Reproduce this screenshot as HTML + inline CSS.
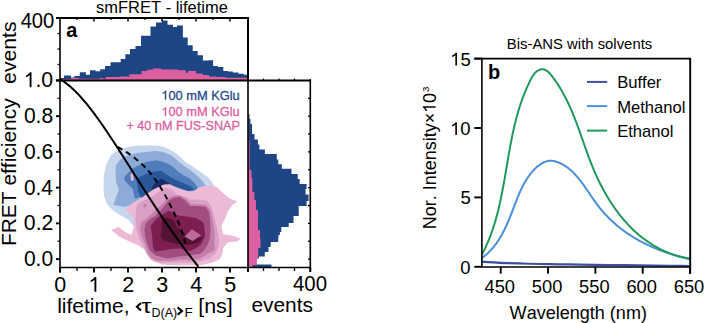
<!DOCTYPE html>
<html><head><meta charset="utf-8"><style>
html,body{margin:0;padding:0;background:#fff;}
body{width:704px;height:323px;overflow:hidden;font-family:"Liberation Sans",sans-serif;}
svg{display:block;}
svg text{font-family:"Liberation Sans",sans-serif;font-kerning:none;}
</style></head><body>
<svg width="704" height="323" viewBox="0 0 704 323" font-family="Liberation Sans, sans-serif" style="font-kerning:none">
<rect width="704" height="323" fill="#fff"/>
<path d="M60.00,80.00 L60.00,78.10 L64.00,78.10 L64.00,75.40 L71.00,75.40 L71.00,77.50 L74.30,77.50 L74.30,76.10 L79.80,76.10 L79.80,72.30 L85.90,72.30 L85.90,74.70 L90.00,74.70 L90.00,70.20 L95.50,70.20 L95.50,71.30 L100.20,71.30 L100.20,69.30 L105.00,69.30 L105.00,65.90 L110.50,65.90 L110.50,62.20 L120.70,62.20 L120.70,59.00 L125.30,59.00 L125.30,54.20 L130.00,54.20 L130.00,49.00 L135.50,49.00 L135.50,46.10 L141.00,46.10 L141.00,35.70 L150.50,35.70 L150.50,26.60 L156.00,26.60 L156.00,22.50 L162.00,22.50 L162.00,20.40 L167.50,20.40 L167.50,24.80 L173.00,24.80 L173.00,27.00 L177.00,27.00 L177.00,25.60 L182.90,25.60 L182.90,37.50 L187.70,37.50 L187.70,45.20 L192.70,45.20 L192.70,50.90 L197.70,50.90 L197.70,55.30 L202.90,55.30 L202.90,60.40 L208.30,60.40 L208.30,60.20 L213.10,60.20 L213.10,65.90 L217.90,65.90 L217.90,67.00 L223.30,67.00 L223.30,71.00 L228.00,71.00 L228.00,71.60 L232.80,71.60 L232.80,72.40 L238.30,72.40 L238.30,73.80 L243.70,73.80 L243.70,74.70 L248.00,74.70 L248.00,80.00 Z" fill="#1f4684"/>
<path d="M60.00,80.00 L60.00,79.10 L71.00,79.10 L71.00,77.90 L78.40,77.90 L78.40,78.80 L100.00,78.80 L100.00,77.90 L103.00,77.90 L103.00,78.80 L105.70,78.80 L105.70,77.00 L119.50,77.00 L119.50,76.40 L129.40,76.40 L129.40,74.20 L141.60,74.20 L141.60,71.10 L147.20,71.10 L147.20,69.80 L152.80,69.80 L152.80,68.60 L161.20,68.60 L161.20,69.40 L178.30,69.40 L178.30,70.20 L185.80,70.20 L185.80,72.70 L187.90,72.70 L187.90,71.00 L196.00,71.00 L196.00,73.40 L202.90,73.40 L202.90,75.10 L209.00,75.10 L209.00,76.50 L216.50,76.50 L216.50,77.00 L226.00,77.00 L226.00,77.80 L248.00,77.80 L248.00,80.00 Z" fill="#dc5fa0"/>
<path d="M248.00,114.00 L249.50,114.00 L249.50,119.00 L250.50,119.00 L250.50,124.00 L252.00,124.00 L252.00,134.00 L254.50,134.00 L254.50,139.50 L257.90,139.50 L257.90,144.50 L259.40,144.50 L259.40,149.40 L264.90,149.40 L264.90,153.90 L276.80,153.90 L276.80,159.40 L278.30,159.40 L278.30,164.30 L281.80,164.30 L281.80,168.80 L291.50,168.80 L291.50,174.00 L297.70,174.00 L297.70,178.90 L299.70,178.90 L299.70,183.90 L306.60,183.90 L306.60,188.90 L305.60,188.90 L305.60,194.40 L308.60,194.40 L308.60,201.00 L306.60,201.00 L306.60,206.00 L298.70,206.00 L298.70,216.00 L293.50,216.00 L293.50,223.00 L288.70,223.00 L288.70,227.00 L281.30,227.00 L281.30,232.00 L279.90,232.00 L279.90,235.00 L278.50,235.00 L278.50,238.00 L278.20,238.00 L278.20,242.00 L270.70,242.00 L270.70,247.00 L268.50,247.00 L268.50,252.00 L264.80,252.00 L264.80,256.50 L259.00,256.50 L259.00,258.50 L248.00,258.50 L248.00,264.60 L271.50,264.60 L271.50,267.50 L248.00,267.50 Z" fill="#1f4684"/>
<path d="M248.00,114.00 L249.00,114.00 L249.00,140.00 L249.60,140.00 L249.60,170.00 L251.50,170.00 L251.50,178.00 L252.40,178.00 L252.40,192.00 L254.40,192.00 L254.40,200.00 L256.00,200.00 L256.00,210.00 L258.00,210.00 L258.00,230.00 L260.00,230.00 L260.00,238.00 L260.50,238.00 L260.50,248.00 L258.20,248.00 L258.20,258.00 L256.90,258.00 L256.90,265.00 L252.40,265.00 L252.40,267.50 L248.00,267.50 Z" fill="#dc5fa0"/>
<path d="M103.50,188.00 L103.70,177.00 L106.00,165.00 L111.00,155.00 L118.60,149.50 L128.00,147.00 L137.20,145.60 L155.70,145.40 L163.00,146.50 L168.70,149.30 L174.00,152.00 L178.00,154.90 L185.50,162.00 L192.00,166.00 L196.60,169.50 L202.00,173.00 L207.70,177.10 L212.00,182.00 L214.00,186.00 L190.00,200.00 L150.00,215.00 L136.00,228.00 L133.75,226.25 L128.75,220.00 L120.00,215.00 L112.50,210.00 L107.00,204.00 L104.00,196.00 Z" fill="#c6d6ed"/>
<path d="M116.00,165.00 L120.00,160.00 L124.10,156.70 L137.20,153.00 L155.70,151.10 L163.00,152.00 L170.60,154.90 L175.00,158.50 L179.90,162.80 L185.00,166.50 L192.90,172.00 L199.00,177.50 L203.00,182.00 L205.90,186.00 L206.50,188.00 L190.00,195.00 L150.00,205.00 L136.00,203.00 L125.00,207.00 L114.00,205.00 L113.75,203.75 L118.75,190.00 L116.25,182.50 L115.50,175.00 Z" fill="#8eaad7"/>
<path d="M124.00,177.50 L128.00,173.00 L133.40,167.90 L146.00,162.00 L155.70,160.20 L162.00,161.50 L168.70,164.10 L173.00,167.00 L178.00,171.50 L184.00,175.50 L189.50,178.50 L194.00,182.50 L197.50,187.00 L197.00,190.00 L180.00,192.00 L150.00,200.00 L142.50,196.25 L135.00,198.75 L132.50,188.75 L125.00,181.00 Z" fill="#4f7dbb"/>
<path d="M136.50,179.00 L141.00,176.00 L144.20,174.90 L148.00,173.00 L152.80,171.80 L158.00,171.00 L162.00,171.10 L165.00,173.80 L174.30,179.20 L185.50,184.00 L191.00,186.40 L194.70,189.60 L170.00,196.00 L150.00,199.00 L141.00,198.00 L138.00,191.00 Z" fill="#285699"/>
<path d="M151.00,191.00 L153.00,185.50 L156.00,182.00 L159.50,179.80 L162.50,178.80 L166.00,181.50 L170.00,183.70 L165.00,187.00 L158.00,189.00 Z" fill="#1b2b6b"/>
<path d="M130.50,174.00 L132.50,173.00 L134.00,180.00 L131.00,181.00 Z" fill="#ecbad7"/>
<path d="M125.00,210.00 L130.00,205.00 L137.50,200.00 L143.75,196.25 L148.00,193.00 L153.20,189.50 L158.40,186.90 L163.75,184.40 L169.70,184.30 L175.80,186.90 L182.70,189.50 L189.60,191.50 L194.00,191.30 L198.30,187.80 L203.50,186.10 L212.50,185.60 L217.50,187.50 L222.50,192.50 L230.00,198.75 L237.50,201.25 L232.50,205.00 L228.00,211.00 L226.25,216.25 L221.50,226.00 L223.00,234.00 L235.00,236.25 L240.50,239.00 L237.50,241.25 L227.50,242.50 L223.40,247.50 L222.30,254.30 L220.00,258.90 L213.20,262.30 L204.10,264.80 L198.00,265.60 L188.75,265.20 L176.25,265.30 L164.00,264.80 L155.00,262.30 L149.30,258.60 L146.00,252.00 L143.75,249.00 L137.50,245.00 L128.75,241.25 L118.75,236.25 L111.25,230.00 L118.75,226.90 L125.00,232.00 L131.25,235.00 L132.50,231.25 L133.75,226.25 L134.00,218.00 Z" fill="#ecbad7"/>
<path d="M137.00,205.00 L141.00,202.00 L144.90,199.90 L149.90,197.40 L153.20,196.00 L158.40,192.00 L165.30,187.80 L173.20,190.50 L176.00,194.00 L184.40,196.50 L191.40,199.50 L200.00,199.50 L207.50,201.00 L212.00,208.00 L214.00,216.00 L216.50,225.00 L218.00,234.00 L219.00,240.00 L218.50,246.40 L216.60,252.00 L209.80,258.50 L201.50,261.00 L189.20,262.60 L177.10,262.40 L161.40,263.10 L152.10,260.30 L147.00,254.00 L143.00,246.00 L139.00,238.00 L136.50,230.00 L135.50,220.00 L136.00,212.00 Z" fill="#d99fc5"/>
<path d="M143.00,205.20 L145.00,203.60 L147.00,205.40 L145.00,207.40 Z" fill="#c47ca9"/>
<path d="M146.00,219.00 L151.00,214.50 L158.00,208.00 L165.00,201.00 L171.00,196.50 L179.70,195.20 L186.50,199.00 L191.00,204.00 L198.30,204.50 L206.00,205.00 L210.50,210.00 L212.50,220.00 L214.40,230.00 L214.50,236.00 L214.50,242.00 L215.00,250.00 L207.50,254.00 L200.00,258.40 L192.00,260.30 L179.90,259.40 L170.60,260.70 L158.60,261.00 L152.00,258.50 L148.00,254.00 L145.00,243.50 L141.50,236.00 L140.00,229.00 L141.00,223.00 Z" fill="#c47ca9"/>
<path d="M150.00,219.10 L154.60,216.40 L162.00,208.90 L168.60,200.60 L174.10,197.80 L179.70,196.90 L185.30,200.60 L190.00,206.10 L198.30,206.10 L205.70,207.10 L209.00,212.00 L210.00,220.00 L210.50,230.00 L210.00,238.00 L208.00,244.00 L204.00,250.50 L200.00,253.80 L189.20,255.60 L179.00,256.60 L167.90,258.50 L155.80,255.60 L150.00,250.50 L146.50,242.00 L145.00,235.00 L144.40,229.00 L145.50,224.00 L148.00,221.00 Z" fill="#a24d80"/>
<path d="M150.50,226.00 L155.00,220.00 L160.00,216.00 L163.90,213.60 L168.60,210.80 L177.90,215.40 L187.10,216.40 L196.40,218.20 L203.00,222.00 L204.50,228.00 L205.00,236.00 L201.00,244.50 L195.70,248.50 L190.10,251.00 L179.90,248.50 L170.60,249.00 L163.20,250.50 L155.00,251.50 L153.00,247.00 L152.00,235.00 Z" fill="#7d1e51"/>
<path d="M162.00,218.90 L166.70,217.40 L174.40,220.50 L176.00,226.70 L182.20,231.30 L188.30,236.00 L196.10,236.00 L202.30,237.50 L199.20,242.20 L188.30,245.20 L176.00,243.70 L163.60,240.60 L160.50,236.00 L162.00,226.70 Z" fill="#531333"/>
<path d="M184.50,236.50 L192.00,229.20 L201.20,235.50 L192.50,241.00 Z" fill="#bd6b9c"/>
<path d="M60.60,80.40 L60.60,79.67 L61.77,80.35 L62.93,81.09 L64.10,81.86 L65.27,82.68 L66.44,83.54 L67.60,84.44 L68.77,85.37 L69.94,86.35 L71.11,87.36 L72.27,88.41 L73.44,89.49 L74.61,90.61 L75.77,91.76 L76.94,92.94 L78.11,94.16 L79.28,95.40 L80.44,96.67 L81.61,97.98 L82.78,99.31 L83.94,100.67 L85.11,102.05 L86.28,103.46 L87.45,104.89 L88.61,106.35 L89.78,107.83 L90.95,109.33 L92.12,110.85 L93.28,112.39 L94.45,113.96 L95.62,115.54 L96.78,117.14 L97.95,118.75 L99.12,120.39 L100.29,122.04 L101.45,123.70 L102.62,125.38 L103.79,127.07 L104.95,128.78 L106.12,130.50 L107.29,132.23 L108.46,133.97 L109.62,135.72 L110.79,137.48 L111.96,139.25 L113.13,141.03 L114.29,142.82 L115.46,144.62 L116.63,146.42 L117.79,148.23 L118.96,150.04 L120.13,151.86 L121.30,153.69 L122.46,155.51 L123.63,157.35 L124.80,159.18 L125.96,161.02 L127.13,162.86 L128.30,164.70 L129.47,166.55 L130.63,168.39 L131.80,170.24 L132.97,172.08 L134.14,173.92 L135.30,175.77 L136.47,177.61 L137.64,179.45 L138.80,181.29 L139.97,183.12 L141.14,184.96 L142.31,186.79 L143.47,188.61 L144.64,190.43 L145.81,192.25 L146.97,194.07 L148.14,195.88 L149.31,197.68 L150.48,199.48 L151.64,201.27 L152.81,203.06 L153.98,204.84 L155.15,206.62 L156.31,208.39 L157.48,210.15 L158.65,211.90 L159.81,213.65 L160.98,215.39 L162.15,217.13 L163.32,218.85 L164.48,220.57 L165.65,222.28 L166.82,223.98 L167.98,225.67 L169.15,227.36 L170.32,229.04 L171.49,230.71 L172.65,232.36 L173.82,234.02 L174.99,235.66 L176.16,237.29 L177.32,238.92 L178.49,240.53 L179.66,242.14 L180.82,243.74 L181.99,245.33 L183.16,246.91 L184.33,248.48 L185.49,250.04 L186.66,251.60 L187.83,253.14 L188.99,254.68 L190.16,256.21 L191.33,257.73 L192.50,259.24 L193.66,260.74 L194.83,262.24 L196.00,263.73 L197.17,265.20 L198.33,266.68" fill="none" stroke="#000" stroke-width="2.0" stroke-linejoin="round"/>
<path d="M117.65,146.80 L119.38,147.78 L121.05,148.75 L122.68,149.73 L124.26,150.70 L125.79,151.68 L127.28,152.65 L128.72,153.63 L130.12,154.61 L131.48,155.58 L132.81,156.56 L134.09,157.53 L135.33,158.51 L136.54,159.48 L137.72,160.46 L138.86,161.44 L139.97,162.41 L141.05,163.39 L142.09,164.36 L143.11,165.34 L144.11,166.32 L145.07,167.29 L146.01,168.27 L146.92,169.24 L147.81,170.22 L148.68,171.19 L149.53,172.17 L150.35,173.15 L151.15,174.12 L151.94,175.10 L152.71,176.07 L153.46,177.05 L154.19,178.02 L154.90,179.00 L155.61,179.98 L156.29,180.95 L156.96,181.93 L157.62,182.90 L158.27,183.88 L158.91,184.85 L159.53,185.83 L160.14,186.81 L160.75,187.78 L161.34,188.76 L161.93,189.73 L162.50,190.71 L163.07,191.68 L163.63,192.66 L164.18,193.64 L164.73,194.61 L165.27,195.59 L165.80,196.56 L166.33,197.54 L166.86,198.52 L167.37,199.49 L167.88,200.47 L168.39,201.44 L168.90,202.42 L169.39,203.39 L169.89,204.37 L170.38,205.35 L170.87,206.32 L171.35,207.30 L171.83,208.27 L172.31,209.25 L172.78,210.22 L173.25,211.20 L173.71,212.18 L174.17,213.15 L174.63,214.13 L175.08,215.10 L175.53,216.08 L175.98,217.05 L176.42,218.03 L176.85,219.01 L177.29,219.98 L177.71,220.96 L178.14,221.93 L178.55,222.91 L178.96,223.88 L179.37,224.86 L179.76,225.84 L180.16,226.81 L180.54,227.79 L180.92,228.76 L181.28,229.74 L181.64,230.72 L181.99,231.69 L182.34,232.67 L182.67,233.64 L182.99,234.62 L183.30,235.59 L183.59,236.57 L183.88,237.55 L184.15,238.52 L184.41,239.50 L184.65,240.47 L184.88,241.45 L185.09,242.42 L185.29,243.40" fill="none" stroke="#000" stroke-width="2.0" stroke-dasharray="5.5,4.2" stroke-dashoffset="0"/>
<path d="M56,18 L248,18 L248,80" fill="none" stroke="#000" stroke-width="1.9"/>
<line x1="60.00" y1="17.20" x2="60.00" y2="272.50" stroke="#000" stroke-width="1.6"/>
<line x1="56.00" y1="80.50" x2="311.00" y2="80.50" stroke="#000" stroke-width="2.1"/>
<line x1="59.20" y1="267.50" x2="311.00" y2="267.50" stroke="#000" stroke-width="1.6"/>
<line x1="310.30" y1="79.20" x2="310.30" y2="272.00" stroke="#000" stroke-width="1.6"/>
<line x1="248.00" y1="18.00" x2="248.00" y2="267.50" stroke="#000" stroke-width="1.6"/>
<line x1="77.00" y1="18.00" x2="77.00" y2="20.00" stroke="#000" stroke-width="1.2"/>
<line x1="94.00" y1="18.00" x2="94.00" y2="21.50" stroke="#000" stroke-width="1.5"/>
<line x1="111.00" y1="18.00" x2="111.00" y2="20.00" stroke="#000" stroke-width="1.2"/>
<line x1="128.00" y1="18.00" x2="128.00" y2="21.50" stroke="#000" stroke-width="1.5"/>
<line x1="145.00" y1="18.00" x2="145.00" y2="20.00" stroke="#000" stroke-width="1.2"/>
<line x1="162.00" y1="18.00" x2="162.00" y2="21.50" stroke="#000" stroke-width="1.5"/>
<line x1="179.00" y1="18.00" x2="179.00" y2="20.00" stroke="#000" stroke-width="1.2"/>
<line x1="196.00" y1="18.00" x2="196.00" y2="21.50" stroke="#000" stroke-width="1.5"/>
<line x1="213.00" y1="18.00" x2="213.00" y2="20.00" stroke="#000" stroke-width="1.2"/>
<line x1="230.00" y1="18.00" x2="230.00" y2="21.50" stroke="#000" stroke-width="1.5"/>
<line x1="57.50" y1="33.50" x2="60.00" y2="33.50" stroke="#000" stroke-width="1.3"/>
<line x1="57.50" y1="49.00" x2="60.00" y2="49.00" stroke="#000" stroke-width="1.3"/>
<line x1="57.50" y1="64.50" x2="60.00" y2="64.50" stroke="#000" stroke-width="1.3"/>
<line x1="56.00" y1="259.10" x2="60.00" y2="259.10" stroke="#000" stroke-width="1.9"/>
<line x1="57.50" y1="241.23" x2="60.00" y2="241.23" stroke="#000" stroke-width="1.3"/>
<line x1="56.00" y1="223.36" x2="60.00" y2="223.36" stroke="#000" stroke-width="1.9"/>
<line x1="57.50" y1="205.49" x2="60.00" y2="205.49" stroke="#000" stroke-width="1.3"/>
<line x1="56.00" y1="187.62" x2="60.00" y2="187.62" stroke="#000" stroke-width="1.9"/>
<line x1="57.50" y1="169.75" x2="60.00" y2="169.75" stroke="#000" stroke-width="1.3"/>
<line x1="56.00" y1="151.88" x2="60.00" y2="151.88" stroke="#000" stroke-width="1.9"/>
<line x1="57.50" y1="134.01" x2="60.00" y2="134.01" stroke="#000" stroke-width="1.3"/>
<line x1="56.00" y1="116.14" x2="60.00" y2="116.14" stroke="#000" stroke-width="1.9"/>
<line x1="57.50" y1="98.27" x2="60.00" y2="98.27" stroke="#000" stroke-width="1.3"/>
<line x1="56.00" y1="80.40" x2="60.00" y2="80.40" stroke="#000" stroke-width="1.9"/>
<line x1="60.00" y1="267.50" x2="60.00" y2="272.50" stroke="#000" stroke-width="1.9"/>
<line x1="77.00" y1="267.50" x2="77.00" y2="271.00" stroke="#000" stroke-width="1.3"/>
<line x1="94.00" y1="267.50" x2="94.00" y2="272.50" stroke="#000" stroke-width="1.9"/>
<line x1="111.00" y1="267.50" x2="111.00" y2="271.00" stroke="#000" stroke-width="1.3"/>
<line x1="128.00" y1="267.50" x2="128.00" y2="272.50" stroke="#000" stroke-width="1.9"/>
<line x1="145.00" y1="267.50" x2="145.00" y2="271.00" stroke="#000" stroke-width="1.3"/>
<line x1="162.00" y1="267.50" x2="162.00" y2="272.50" stroke="#000" stroke-width="1.9"/>
<line x1="179.00" y1="267.50" x2="179.00" y2="271.00" stroke="#000" stroke-width="1.3"/>
<line x1="196.00" y1="267.50" x2="196.00" y2="272.50" stroke="#000" stroke-width="1.9"/>
<line x1="213.00" y1="267.50" x2="213.00" y2="271.00" stroke="#000" stroke-width="1.3"/>
<line x1="230.00" y1="267.50" x2="230.00" y2="272.50" stroke="#000" stroke-width="1.9"/>
<line x1="308.00" y1="259.10" x2="310.30" y2="259.10" stroke="#000" stroke-width="1.3"/>
<line x1="308.00" y1="241.23" x2="310.30" y2="241.23" stroke="#000" stroke-width="1.3"/>
<line x1="308.00" y1="223.36" x2="310.30" y2="223.36" stroke="#000" stroke-width="1.3"/>
<line x1="308.00" y1="205.49" x2="310.30" y2="205.49" stroke="#000" stroke-width="1.3"/>
<line x1="308.00" y1="187.62" x2="310.30" y2="187.62" stroke="#000" stroke-width="1.3"/>
<line x1="308.00" y1="169.75" x2="310.30" y2="169.75" stroke="#000" stroke-width="1.3"/>
<line x1="308.00" y1="151.88" x2="310.30" y2="151.88" stroke="#000" stroke-width="1.3"/>
<line x1="308.00" y1="134.01" x2="310.30" y2="134.01" stroke="#000" stroke-width="1.3"/>
<line x1="308.00" y1="116.14" x2="310.30" y2="116.14" stroke="#000" stroke-width="1.3"/>
<line x1="308.00" y1="98.27" x2="310.30" y2="98.27" stroke="#000" stroke-width="1.3"/>
<line x1="248.00" y1="267.50" x2="248.00" y2="272.00" stroke="#000" stroke-width="1.9"/>
<line x1="263.50" y1="267.50" x2="263.50" y2="271.00" stroke="#000" stroke-width="1.3"/>
<line x1="279.00" y1="267.50" x2="279.00" y2="271.00" stroke="#000" stroke-width="1.3"/>
<line x1="294.50" y1="267.50" x2="294.50" y2="271.00" stroke="#000" stroke-width="1.3"/>
<line x1="310.30" y1="267.50" x2="310.30" y2="272.00" stroke="#000" stroke-width="1.9"/>
<line x1="263.50" y1="78.50" x2="263.50" y2="80.00" stroke="#000" stroke-width="1.2"/>
<line x1="279.00" y1="78.50" x2="279.00" y2="80.00" stroke="#000" stroke-width="1.2"/>
<line x1="294.50" y1="78.50" x2="294.50" y2="80.00" stroke="#000" stroke-width="1.2"/>
<text x="96.04" y="12.70" font-size="16.5" font-weight="normal" fill="#000" textLength="131.89" lengthAdjust="spacingAndGlyphs">smFRET - lifetime</text>
<text x="66.32" y="37.00" font-size="21" font-weight="bold" fill="#000" textLength="11.06" lengthAdjust="spacingAndGlyphs">a</text>
<text x="20.64" y="28.10" font-size="22" font-weight="normal" fill="#000" textLength="33.75" lengthAdjust="spacingAndGlyphs">400</text>
<text transform="translate(15.80,83.90) rotate(-90)" x="0" y="0" font-size="21" font-weight="normal" fill="#000" textLength="62.47" lengthAdjust="spacingAndGlyphs">events</text>
<text transform="translate(15.80,246.02) rotate(-90)" x="0" y="0" font-size="21" font-weight="normal" fill="#000" textLength="147.66" lengthAdjust="spacingAndGlyphs">FRET efficiency</text>
<text x="23.88" y="266.00" font-size="21.8" font-weight="normal" fill="#000" textLength="29.24" lengthAdjust="spacingAndGlyphs">0.0</text>
<text x="23.87" y="230.26" font-size="21.8" font-weight="normal" fill="#000" textLength="29.50" lengthAdjust="spacingAndGlyphs">0.2</text>
<text x="23.88" y="194.52" font-size="21.8" font-weight="normal" fill="#000" textLength="29.03" lengthAdjust="spacingAndGlyphs">0.4</text>
<text x="23.88" y="158.78" font-size="21.8" font-weight="normal" fill="#000" textLength="29.35" lengthAdjust="spacingAndGlyphs">0.6</text>
<text x="23.88" y="123.04" font-size="21.8" font-weight="normal" fill="#000" textLength="29.34" lengthAdjust="spacingAndGlyphs">0.8</text>
<text x="23.59" y="87.30" font-size="21.8" font-weight="normal" fill="#000" textLength="29.54" lengthAdjust="spacingAndGlyphs"> .0</text><path d="M31.50,87.30 L29.64,87.30 L29.64,75.09 L29.19,75.53 L28.46,76.08 L27.63,76.62 L26.75,77.10 L25.90,77.50 L25.90,75.64 L27.03,75.06 L28.12,74.31 L29.09,73.46 L29.81,72.61 L29.99,72.30 L31.50,72.30 Z" fill="#000"/>
<text x="54.32" y="291.70" font-size="21.5" font-weight="normal" fill="#000">0</text>
<text x="88.32" y="291.70" font-size="21.5" font-weight="normal" fill="#000"> </text><path d="M96.33,291.70 L94.44,291.70 L94.44,279.66 L93.99,280.09 L93.26,280.64 L92.42,281.17 L91.52,281.64 L90.66,282.03 L90.66,280.20 L91.81,279.63 L92.91,278.89 L93.89,278.05 L94.62,277.21 L94.80,276.91 L96.33,276.91 Z" fill="#000"/>
<text x="122.32" y="291.70" font-size="21.5" font-weight="normal" fill="#000">2</text>
<text x="156.32" y="291.70" font-size="21.5" font-weight="normal" fill="#000">3</text>
<text x="190.32" y="291.70" font-size="21.5" font-weight="normal" fill="#000">4</text>
<text x="224.32" y="291.70" font-size="21.5" font-weight="normal" fill="#000">5</text>
<text x="292.93" y="291.40" font-size="22" font-weight="normal" fill="#000" textLength="34.07" lengthAdjust="spacingAndGlyphs">400</text>
<text x="251.41" y="312.10" font-size="21" font-weight="normal" fill="#000" textLength="61.54" lengthAdjust="spacingAndGlyphs">events</text>
<text x="57.18" y="312.80" font-size="21" font-weight="normal" fill="#000">lifetime,</text>
<path d="M141.0,303.0 L136.9,306.8 L141.0,310.6" fill="none" stroke="#000" stroke-width="2.1" stroke-linejoin="miter"/>
<text x="141.54" y="313.30" font-size="21" font-weight="normal" fill="#000" textLength="9.97" lengthAdjust="spacingAndGlyphs">τ</text>
<text x="151.58" y="317.20" font-size="13.5" font-weight="normal" fill="#000" textLength="25.59" lengthAdjust="spacingAndGlyphs">D(A)</text>
<path d="M177.6,307.4 L182.0,311.1 L177.6,314.8" fill="none" stroke="#000" stroke-width="2.1" stroke-linejoin="miter"/>
<text x="184.49" y="317.20" font-size="13.5" font-weight="normal" fill="#000">F</text>
<text x="198.17" y="312.80" font-size="21" font-weight="normal" fill="#000" textLength="34.67" lengthAdjust="spacingAndGlyphs">[ns]</text>
<text x="161.30" y="99.60" font-size="12.7" font-weight="normal" fill="#274a8b" textLength="78.45" lengthAdjust="spacingAndGlyphs" stroke="#274a8b" stroke-width="0.3"> 00 mM KGlu</text><path d="M166.08,99.60 L164.96,99.60 L164.96,92.49 L164.69,92.74 L164.25,93.06 L163.75,93.38 L163.21,93.66 L162.70,93.89 L162.70,92.81 L163.38,92.47 L164.04,92.03 L164.62,91.54 L165.06,91.04 L165.17,90.86 L166.08,90.86 Z" fill="#274a8b" stroke="#274a8b" stroke-width="0.3"/>
<text x="161.30" y="116.00" font-size="12.7" font-weight="normal" fill="#dc5fa0" textLength="78.45" lengthAdjust="spacingAndGlyphs" stroke="#dc5fa0" stroke-width="0.3"> 00 mM KGlu</text><path d="M166.08,116.00 L164.96,116.00 L164.96,108.89 L164.69,109.14 L164.25,109.46 L163.75,109.78 L163.21,110.06 L162.70,110.29 L162.70,109.21 L163.38,108.87 L164.04,108.43 L164.62,107.94 L165.06,107.44 L165.17,107.26 L166.08,107.26 Z" fill="#dc5fa0" stroke="#dc5fa0" stroke-width="0.3"/>
<text x="126.38" y="129.90" font-size="12.7" font-weight="normal" fill="#dc5fa0" textLength="113.59" lengthAdjust="spacingAndGlyphs" stroke="#dc5fa0" stroke-width="0.3">+ 40 nM FUS-SNAP</text>
<path d="M481.80,261.60 L484.56,261.82 L488.40,262.13 L493.49,262.47 L500.00,262.80 L508.47,263.11 L518.64,263.44 L529.49,263.74 L540.00,264.00 L549.53,264.19 L558.75,264.32 L568.59,264.45 L580.00,264.60 L593.83,264.79 L609.38,265.00 L625.23,265.21 L640.00,265.40 L654.38,265.58 L668.75,265.75 L681.25,265.90 L690.00,266.00" fill="none" stroke="#3c4fa6" stroke-width="2.2"/>
<path d="M481.45,258.27 L482.72,257.34 L483.96,256.39 L485.17,255.41 L486.34,254.41 L487.48,253.40 L488.58,252.36 L489.65,251.30 L490.69,250.22 L491.70,249.12 L492.69,248.01 L493.64,246.87 L494.57,245.72 L495.47,244.55 L496.35,243.37 L497.20,242.17 L498.03,240.95 L498.83,239.72 L499.62,238.48 L500.38,237.22 L501.13,235.94 L501.85,234.66 L502.56,233.36 L503.25,232.05 L503.93,230.73 L504.59,229.40 L505.24,228.06 L505.87,226.71 L506.49,225.35 L507.10,223.98 L507.70,222.60 L508.29,221.22 L508.87,219.82 L509.45,218.42 L510.02,217.02 L510.58,215.61 L511.14,214.19 L511.69,212.77 L512.24,211.34 L512.79,209.91 L513.34,208.48 L513.89,207.05 L514.44,205.61 L514.99,204.17 L515.55,202.73 L516.11,201.29 L516.67,199.86 L517.25,198.42 L517.83,196.99 L518.41,195.57 L519.01,194.14 L519.63,192.73 L520.25,191.33 L520.89,189.93 L521.54,188.54 L522.22,187.17 L522.91,185.81 L523.62,184.46 L524.34,183.12 L525.10,181.80 L525.87,180.50 L526.67,179.22 L527.49,177.95 L528.35,176.71 L529.23,175.48 L530.13,174.28 L531.07,173.10 L532.05,171.95 L533.05,170.82 L534.09,169.72 L535.16,168.64 L536.27,167.60 L537.42,166.58 L538.60,165.62 L539.82,164.71 L541.06,163.87 L542.34,163.10 L543.64,162.42 L544.97,161.84 L546.32,161.36 L547.70,161.01 L549.09,160.78 L550.51,160.68 L551.94,160.74 L553.38,160.94 L554.82,161.26 L556.25,161.68 L557.66,162.17 L559.04,162.72 L560.39,163.32 L561.70,163.96 L562.98,164.65 L564.23,165.39 L565.45,166.16 L566.65,166.98 L567.82,167.83 L568.96,168.72 L570.08,169.64 L571.17,170.60 L572.25,171.60 L573.30,172.62 L574.33,173.67 L575.35,174.75 L576.35,175.85 L577.33,176.98 L578.30,178.13 L579.25,179.30 L580.19,180.49 L581.12,181.70 L582.04,182.92 L582.95,184.16 L583.85,185.41 L584.75,186.67 L585.64,187.95 L586.52,189.23 L587.41,190.51 L588.29,191.80 L589.17,193.10 L590.05,194.39 L590.93,195.69 L591.81,196.98 L592.70,198.27 L593.59,199.56 L594.49,200.83 L595.40,202.10 L596.31,203.36 L597.23,204.61 L598.17,205.85 L599.11,207.07 L600.07,208.28 L601.04,209.47 L602.03,210.64 L603.02,211.80 L604.03,212.94 L605.05,214.07 L606.08,215.18 L607.13,216.28 L608.18,217.36 L609.25,218.43 L610.32,219.48 L611.41,220.52 L612.51,221.54 L613.62,222.55 L614.74,223.54 L615.88,224.52 L617.02,225.49 L618.17,226.44 L619.33,227.38 L620.50,228.30 L621.68,229.21 L622.88,230.10 L624.08,230.99 L625.29,231.86 L626.51,232.71 L627.74,233.55 L628.97,234.38 L630.22,235.20 L631.47,236.00 L632.74,236.79 L634.01,237.57 L635.29,238.33 L636.58,239.08 L637.87,239.82 L639.17,240.55 L640.49,241.26 L641.80,241.96 L643.13,242.65 L644.46,243.33 L645.80,244.00 L647.15,244.65 L648.50,245.30 L649.86,245.93 L651.23,246.55 L652.60,247.16 L653.98,247.75 L655.37,248.34 L656.76,248.91 L658.15,249.48 L659.56,250.03 L660.96,250.57 L662.38,251.11 L663.79,251.63 L665.22,252.14 L666.65,252.64 L668.08,253.13 L669.52,253.61 L670.96,254.08 L672.40,254.54 L673.85,254.99 L675.31,255.43 L676.76,255.86 L678.23,256.28 L679.69,256.69 L681.16,257.09 L682.63,257.49 L684.11,257.87 L685.58,258.25 L687.06,258.61 L688.55,258.97 L690.03,259.32" fill="none" stroke="#4a8fd8" stroke-width="2.0" stroke-linejoin="round"/>
<path d="M482.09,254.40 L483.14,252.38 L484.15,250.35 L485.13,248.31 L486.08,246.26 L487.00,244.20 L487.89,242.13 L488.75,240.04 L489.58,237.95 L490.39,235.85 L491.17,233.74 L491.92,231.62 L492.65,229.49 L493.36,227.35 L494.04,225.20 L494.71,223.05 L495.35,220.89 L495.97,218.72 L496.57,216.54 L497.15,214.36 L497.72,212.17 L498.26,209.98 L498.80,207.78 L499.31,205.57 L499.81,203.36 L500.30,201.15 L500.77,198.93 L501.24,196.71 L501.69,194.48 L502.13,192.25 L502.56,190.02 L502.98,187.78 L503.40,185.54 L503.81,183.30 L504.21,181.06 L504.60,178.81 L504.99,176.57 L505.38,174.32 L505.76,172.07 L506.14,169.83 L506.52,167.58 L506.90,165.33 L507.28,163.09 L507.66,160.84 L508.05,158.60 L508.43,156.35 L508.82,154.11 L509.22,151.88 L509.61,149.64 L510.02,147.41 L510.43,145.18 L510.85,142.95 L511.28,140.73 L511.71,138.51 L512.16,136.29 L512.62,134.09 L513.09,131.88 L513.57,129.68 L514.06,127.49 L514.57,125.30 L515.10,123.12 L515.64,120.94 L516.20,118.77 L516.78,116.60 L517.37,114.44 L517.99,112.28 L518.63,110.12 L519.30,107.96 L519.98,105.81 L520.70,103.66 L521.44,101.51 L522.20,99.36 L523.00,97.21 L523.82,95.06 L524.68,92.91 L525.57,90.76 L526.49,88.61 L527.44,86.45 L528.43,84.30 L529.46,82.14 L530.52,79.98 L531.64,77.83 L532.84,75.76 L534.18,73.85 L535.69,72.17 L537.44,70.79 L539.39,69.80 L541.41,69.27 L543.37,69.28 L545.21,69.84 L546.93,70.84 L548.56,72.19 L550.10,73.81 L551.57,75.60 L552.99,77.46 L554.37,79.34 L555.71,81.24 L557.01,83.15 L558.27,85.08 L559.49,87.02 L560.68,88.97 L561.83,90.94 L562.95,92.92 L564.04,94.91 L565.10,96.91 L566.13,98.92 L567.14,100.94 L568.11,102.98 L569.07,105.02 L570.00,107.07 L570.91,109.13 L571.80,111.20 L572.67,113.28 L573.52,115.36 L574.36,117.45 L575.18,119.54 L575.99,121.65 L576.78,123.75 L577.57,125.86 L578.35,127.98 L579.11,130.10 L579.88,132.22 L580.63,134.35 L581.39,136.48 L582.14,138.61 L582.89,140.74 L583.64,142.87 L584.39,145.01 L585.15,147.14 L585.91,149.27 L586.68,151.40 L587.45,153.54 L588.23,155.66 L589.02,157.79 L589.83,159.92 L590.65,162.04 L591.48,164.15 L592.32,166.27 L593.19,168.37 L594.07,170.48 L594.97,172.57 L595.89,174.67 L596.84,176.75 L597.81,178.83 L598.80,180.90 L599.81,182.96 L600.84,185.01 L601.90,187.05 L602.97,189.07 L604.07,191.09 L605.20,193.09 L606.34,195.08 L607.51,197.05 L608.70,199.01 L609.92,200.95 L611.16,202.88 L612.42,204.79 L613.70,206.67 L615.01,208.54 L616.34,210.39 L617.70,212.22 L619.08,214.03 L620.48,215.81 L621.91,217.57 L623.36,219.31 L624.84,221.02 L626.34,222.70 L627.86,224.36 L629.41,225.99 L630.98,227.60 L632.58,229.17 L634.21,230.72 L635.85,232.23 L637.53,233.71 L639.23,235.16 L640.95,236.58 L642.70,237.97 L644.47,239.31 L646.28,240.63 L648.10,241.91 L649.95,243.15 L651.83,244.35 L653.74,245.52 L655.67,246.64 L657.62,247.73 L659.61,248.77 L661.62,249.78 L663.65,250.74 L665.72,251.66 L667.81,252.53 L669.92,253.36 L672.07,254.14 L674.24,254.88 L676.43,255.57 L678.66,256.21 L680.91,256.80 L683.19,257.35 L685.50,257.84 L687.84,258.28 L690.20,258.67" fill="none" stroke="#1f9a5b" stroke-width="2.0" stroke-linejoin="round"/>
<path d="M474.3,58.6 L690.2,58.6 L690.2,273.7" fill="none" stroke="#000" stroke-width="1.9"/>
<line x1="481.90" y1="57.80" x2="481.90" y2="267.60" stroke="#000" stroke-width="1.6"/>
<line x1="481.10" y1="267.00" x2="690.20" y2="267.00" stroke="#000" stroke-width="1.6"/>
<line x1="474.30" y1="266.80" x2="482.00" y2="266.80" stroke="#000" stroke-width="1.9"/>
<line x1="474.30" y1="197.40" x2="482.00" y2="197.40" stroke="#000" stroke-width="1.9"/>
<line x1="474.30" y1="128.00" x2="482.00" y2="128.00" stroke="#000" stroke-width="1.9"/>
<line x1="474.30" y1="58.60" x2="482.00" y2="58.60" stroke="#000" stroke-width="1.9"/>
<line x1="500.73" y1="267.00" x2="500.73" y2="273.70" stroke="#000" stroke-width="1.9"/>
<line x1="548.06" y1="267.00" x2="548.06" y2="273.70" stroke="#000" stroke-width="1.9"/>
<line x1="595.38" y1="267.00" x2="595.38" y2="273.70" stroke="#000" stroke-width="1.9"/>
<line x1="642.71" y1="267.00" x2="642.71" y2="273.70" stroke="#000" stroke-width="1.9"/>
<line x1="690.03" y1="267.00" x2="690.03" y2="273.70" stroke="#000" stroke-width="1.9"/>
<text x="506.78" y="49.30" font-size="15" font-weight="normal" fill="#000" textLength="145.46" lengthAdjust="spacingAndGlyphs">Bis-ANS with solvents</text>
<text x="488.08" y="78.75" font-size="20" font-weight="bold" fill="#000">b</text>
<text x="450.10" y="65.50" font-size="18.5" font-weight="normal" fill="#000"> 5</text><path d="M456.99,65.50 L455.37,65.50 L455.37,55.14 L454.98,55.51 L454.34,55.98 L453.62,56.44 L452.85,56.85 L452.11,57.18 L452.11,55.61 L453.10,55.11 L454.05,54.48 L454.89,53.76 L455.52,53.03 L455.67,52.77 L456.99,52.77 Z" fill="#000"/>
<text x="450.05" y="134.90" font-size="18.5" font-weight="normal" fill="#000"> 0</text><path d="M456.94,134.90 L455.31,134.90 L455.31,124.54 L454.92,124.91 L454.29,125.38 L453.57,125.84 L452.80,126.25 L452.06,126.58 L452.06,125.01 L453.04,124.51 L453.99,123.88 L454.83,123.16 L455.46,122.43 L455.62,122.17 L456.94,122.17 Z" fill="#000"/>
<text x="460.39" y="204.30" font-size="18.5" font-weight="normal" fill="#000">5</text>
<text x="460.33" y="273.70" font-size="18.5" font-weight="normal" fill="#000">0</text>
<text x="499.73" y="293.2" font-size="18.3" text-anchor="middle">450</text>
<text x="547.06" y="293.2" font-size="18.3" text-anchor="middle">500</text>
<text x="594.38" y="293.2" font-size="18.3" text-anchor="middle">550</text>
<text x="641.71" y="293.2" font-size="18.3" text-anchor="middle">600</text>
<text x="689.03" y="293.2" font-size="18.3" text-anchor="middle">650</text>
<text x="509.62" y="318.70" font-size="18.5" font-weight="normal" fill="#000" textLength="137.30" lengthAdjust="spacingAndGlyphs">Wavelength (nm)</text>
<text transform="translate(435.60,229.17) rotate(-90)" x="0" y="0" font-size="18.5" font-weight="normal" fill="#000" textLength="136.27" lengthAdjust="spacingAndGlyphs">Nor. Intensity× 0</text><path transform="translate(435.60,229.17) rotate(-90)" d="M122.99,0.00 L121.41,0.00 L121.41,-10.36 L121.03,-9.99 L120.42,-9.52 L119.72,-9.06 L118.97,-8.65 L118.25,-8.32 L118.25,-9.89 L119.21,-10.39 L120.13,-11.02 L120.95,-11.74 L121.56,-12.47 L121.71,-12.73 L122.99,-12.73 Z" fill="#000"/>
<text transform="translate(428.50,92.07) rotate(-90)" x="0" y="0" font-size="9.5" font-weight="normal" fill="#000" textLength="5.40" lengthAdjust="spacingAndGlyphs">3</text>
<line x1="587.00" y1="81.90" x2="607.20" y2="81.90" stroke="#3c4fa6" stroke-width="2.0"/>
<line x1="587.00" y1="106.10" x2="607.20" y2="106.10" stroke="#4a8fd8" stroke-width="2.0"/>
<line x1="587.00" y1="130.60" x2="607.20" y2="130.60" stroke="#1f9a5b" stroke-width="2.0"/>
<text x="617.14" y="87.60" font-size="16.6" font-weight="normal" fill="#000">Buffer</text>
<text x="617.14" y="112.60" font-size="16.6" font-weight="normal" fill="#000">Methanol</text>
<text x="617.14" y="136.50" font-size="16.6" font-weight="normal" fill="#000">Ethanol</text>
</svg>
</body></html>
